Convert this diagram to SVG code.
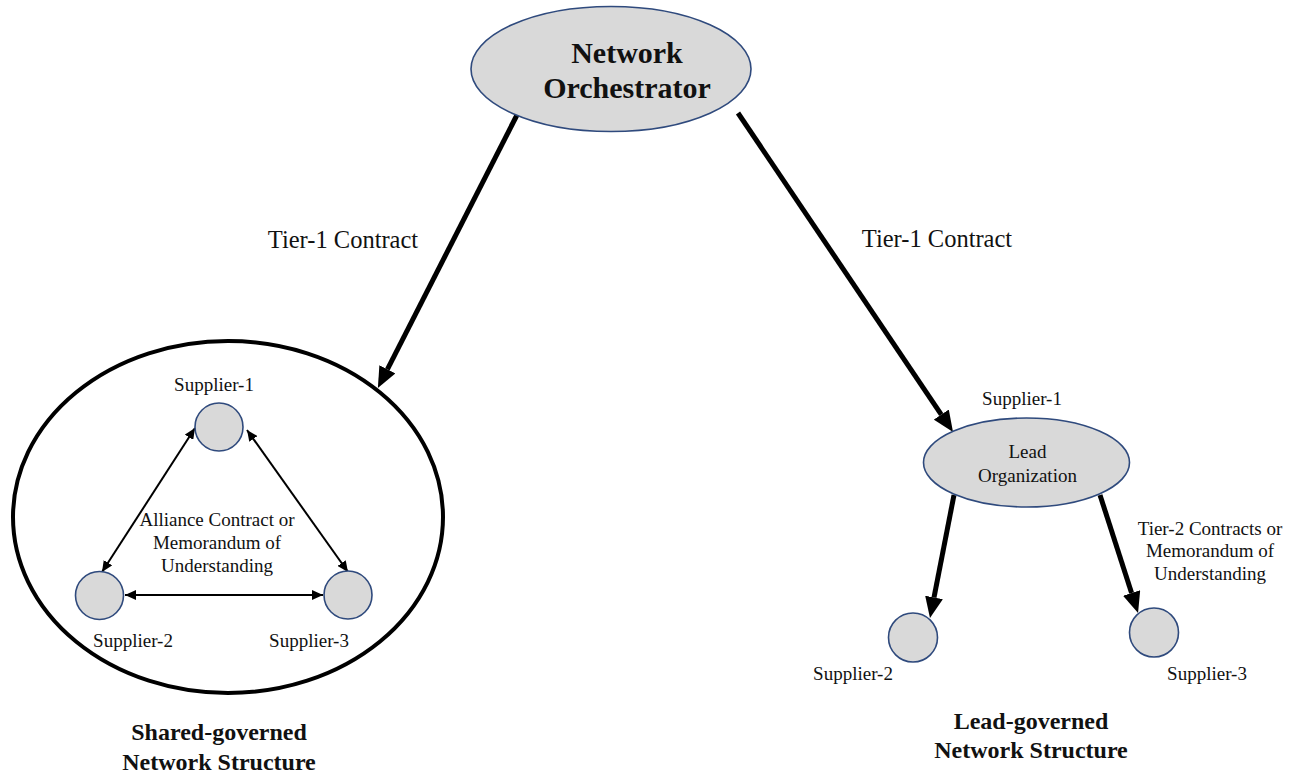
<svg xmlns="http://www.w3.org/2000/svg" width="1295" height="776" viewBox="0 0 1295 776">
<style>
  text { font-family: "Liberation Serif", "Times New Roman", serif; fill: #111; text-anchor: middle; }
  .lbl { font-size: 19px; }
  .t1 { font-size: 24.5px; }
  .title { font-size: 24px; font-weight: bold; }
  .orch { font-size: 30px; font-weight: bold; }
  .node { fill: #D9D9D9; stroke: #2F4A7D; stroke-width: 1.6; }
  .thick { stroke: #000; stroke-width: 5; fill: none; marker-end: url(#bigHead); }
  .thin { stroke: #000; stroke-width: 2; fill: none; marker-start: url(#smallHead); marker-end: url(#smallHead); }
</style>
<defs>
  <marker id="bigHead" markerUnits="userSpaceOnUse" markerWidth="22" markerHeight="18" refX="0" refY="9" orient="auto">
    <path d="M0,0 L21,9 L0,18 z" fill="#000"/>
  </marker>
  <marker id="smallHead" markerUnits="userSpaceOnUse" markerWidth="12" markerHeight="10" refX="11" refY="5" orient="auto-start-reverse">
    <path d="M0,0 L11,5 L0,10 z" fill="#000"/>
  </marker>
</defs>
<rect width="1295" height="776" fill="#fff"/>

<g id="shared-boundary">
  <ellipse cx="228" cy="517" rx="215" ry="176" fill="none" stroke="#000" stroke-width="4"/>
</g>

<g id="connectors">
  <line class="thick" x1="518" y1="113" x2="387.4" y2="369.3"/>
  <line class="thick" x1="738" y1="113" x2="941.3" y2="414.6"/>
  <line class="thick" x1="954" y1="495" x2="934" y2="597.4"/>
  <line class="thick" x1="1100" y1="495" x2="1131.6" y2="593"/>
  <line class="thin" x1="195" y1="428" x2="102" y2="572"/>
  <line class="thin" x1="247" y1="430" x2="348" y2="572"/>
  <line class="thin" x1="125" y1="595" x2="323" y2="595"/>
  <text class="t1" x="343" y="248">Tier-1 Contract</text>
  <text class="t1" x="937" y="247">Tier-1 Contract</text>
  <text class="lbl"><tspan x="217" y="526">Alliance Contract or</tspan><tspan x="217" y="549">Memorandum of</tspan><tspan x="217" y="572">Understanding</tspan></text>
  <text class="lbl"><tspan x="1210" y="535">Tier-2 Contracts or</tspan><tspan x="1210" y="557">Memorandum of</tspan><tspan x="1210" y="580">Understanding</tspan></text>
</g>

<g id="orchestrator">
  <ellipse class="node" cx="611" cy="69" rx="140" ry="62.5"/>
  <text class="orch" x="627" y="63">Network</text>
  <text class="orch" x="627" y="98">Orchestrator</text>
</g>

<g id="shared-supplier-1">
  <circle class="node" cx="219" cy="427" r="24"/>
  <text class="lbl" x="214" y="391">Supplier-1</text>
</g>
<g id="shared-supplier-2">
  <circle class="node" cx="99.5" cy="595.5" r="24"/>
  <text class="lbl" x="133" y="647">Supplier-2</text>
</g>
<g id="shared-supplier-3">
  <circle class="node" cx="348" cy="595" r="24"/>
  <text class="lbl" x="309" y="647">Supplier-3</text>
</g>

<g id="lead-organization">
  <ellipse class="node" cx="1026.5" cy="462.5" rx="103" ry="44.5"/>
  <text class="lbl" x="1022" y="405">Supplier-1</text>
  <text class="lbl" x="1027.5" y="458">Lead</text>
  <text class="lbl" x="1027.5" y="482">Organization</text>
</g>
<g id="lead-supplier-2">
  <circle class="node" cx="913" cy="637.5" r="24.5"/>
  <text class="lbl" x="853" y="680">Supplier-2</text>
</g>
<g id="lead-supplier-3">
  <circle class="node" cx="1154" cy="632.5" r="24.5"/>
  <text class="lbl" x="1207" y="680">Supplier-3</text>
</g>

<g id="captions">
  <text class="title" x="219" y="740">Shared-governed</text>
  <text class="title" x="219" y="770">Network Structure</text>
  <text class="title" x="1031" y="729">Lead-governed</text>
  <text class="title" x="1031" y="758">Network Structure</text>
</g>
</svg>
